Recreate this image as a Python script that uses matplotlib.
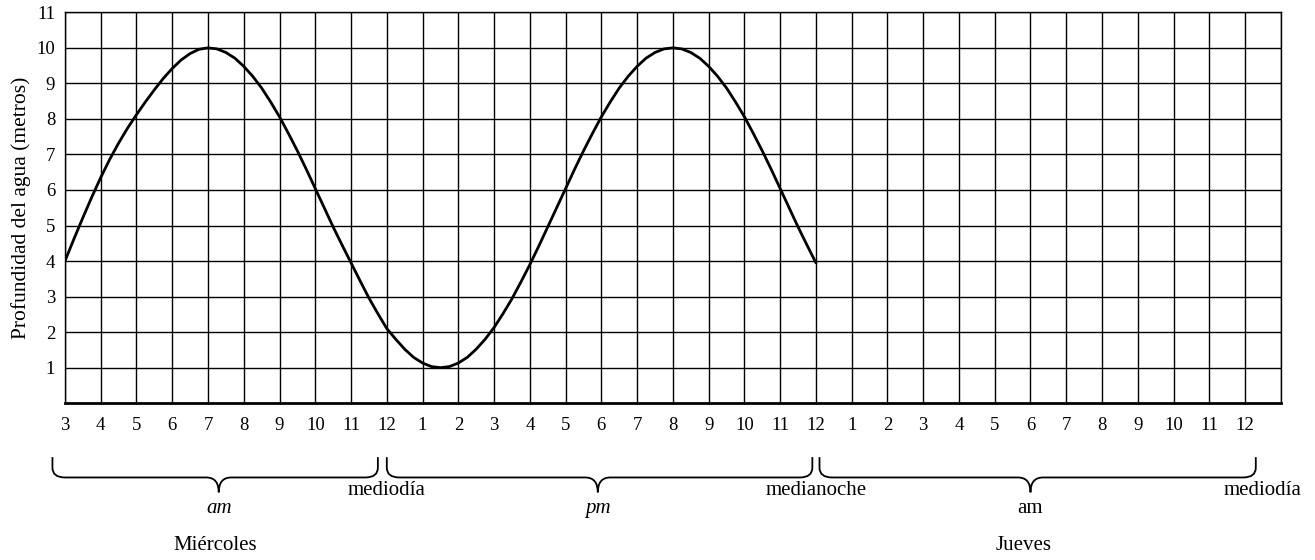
import numpy as np
import matplotlib
matplotlib.use("Agg")
import matplotlib.pyplot as plt
from matplotlib.path import Path
from matplotlib.patches import PathPatch
from matplotlib.transforms import blended_transform_factory

plt.rcParams['font.family'] = ['Liberation Serif', 'DejaVu Serif']

# hours counted from Wednesday midnight (3 = 3 am Wed, 36 = noon Thu),
# depth read off every quarter hour
hours = [3.0, 3.25, 3.5, 3.75, 4.0, 4.25, 4.5, 4.75, 5.0, 5.25, 5.5, 5.75,
         6.0, 6.25, 6.5, 6.75, 7.0, 7.25, 7.5, 7.75, 8.0, 8.25, 8.5, 8.75,
         9.0, 9.25, 9.5, 9.75, 10.0, 10.25, 10.5, 10.75, 11.0, 11.25, 11.5,
         11.75, 12.0, 12.25, 12.5, 12.75, 13.0, 13.25, 13.5, 13.75, 14.0,
         14.25, 14.5, 14.75, 15.0, 15.25, 15.5, 15.75, 16.0, 16.25, 16.5,
         16.75, 17.0, 17.25, 17.5, 17.75, 18.0, 18.25, 18.5, 18.75, 19.0,
         19.25, 19.5, 19.75, 20.0, 20.25, 20.5, 20.75, 21.0, 21.25, 21.5,
         21.75, 22.0, 22.25, 22.5, 22.75, 23.0, 23.25, 23.5, 23.75, 24.0]
depth = [4.00, 4.62, 5.22, 5.80, 6.35, 6.86, 7.32, 7.74, 8.12, 8.48, 8.82,
         9.14, 9.42, 9.66, 9.84, 9.96, 10.00, 9.97, 9.87, 9.71, 9.48, 9.20,
         8.87, 8.48, 8.06, 7.59, 7.10, 6.58, 6.04, 5.50, 4.96, 4.45, 3.95,
         3.45, 2.96, 2.52, 2.10, 1.80, 1.52, 1.29, 1.13, 1.03, 1.00, 1.03,
         1.13, 1.29, 1.52, 1.80, 2.13, 2.52, 2.94, 3.41, 3.90, 4.42, 4.96,
         5.50, 6.04, 6.58, 7.10, 7.59, 8.06, 8.48, 8.87, 9.20, 9.48, 9.71,
         9.87, 9.97, 10.00, 9.97, 9.87, 9.71, 9.48, 9.20, 8.87, 8.48, 8.06,
         7.59, 7.10, 6.58, 6.04, 5.50, 4.96, 4.45, 3.95]

tick_hours = list(range(3, 37))
tick_labels = [str((h - 1) % 12 + 1) for h in tick_hours]
depth_ticks = list(range(1, 12))

# braces: (start, end, tip)
braces = [(2.65, 11.75, 7.3), (12.0, 23.9, 17.9), (24.1, 36.3, 30.0)]
period_labels = [(7.3, 'am', 'italic'), (17.9, 'pm', 'italic'), (30.0, 'am', 'normal')]
edge_labels = [(12.0, 'mediodía'), (24.0, 'medianoche'), (36.5, 'mediodía')]
day_labels = [(7.2, 'Miércoles'), (29.8, 'Jueves')]

fig = plt.figure(figsize=(13.15, 5.6), dpi=100)
ax = fig.add_axes([0.0494, 0.280, 0.9246, 0.698])

ax.plot(hours, depth, color='black', lw=2.0, solid_joinstyle='round',
        solid_capstyle='round', zorder=3)

ax.set_xlim(3, 37)
ax.set_ylim(0, 11)
ax.set_xticks(range(3, 38))
ax.set_xticklabels(tick_labels + [''])
ax.set_yticks(depth_ticks)
ax.set_yticklabels([str(v) for v in depth_ticks])
ax.tick_params(axis='x', length=0, pad=10, labelsize=13.5)
ax.tick_params(axis='y', length=0, pad=7, labelsize=13.5)
ax.grid(True, color='black', lw=1.0)
for s in ['left', 'top', 'right']:
    ax.spines[s].set_linewidth(1.0)
ax.spines['bottom'].set_linewidth(2.0)
ax.set_ylabel('Profundidad del agua (metros)', fontsize=15.5, labelpad=4)

trans = blended_transform_factory(ax.transData, ax.transAxes)
yt, yh, yp = -0.138, -0.19, -0.228
rx, dy = 0.35, 0.025


def brace(x0, x1, xm):
    verts = [(x0, yt), (x0, yh + dy), (x0, yh), (x0 + rx, yh),
             (xm - rx, yh), (xm, yh), (xm, yp), (xm, yh), (xm + rx, yh),
             (x1 - rx, yh), (x1, yh), (x1, yh + dy), (x1, yt)]
    codes = [Path.MOVETO, Path.LINETO, Path.CURVE3, Path.CURVE3,
             Path.LINETO, Path.CURVE3, Path.CURVE3, Path.CURVE3, Path.CURVE3,
             Path.LINETO, Path.CURVE3, Path.CURVE3, Path.LINETO]
    ax.add_patch(PathPatch(Path(verts, codes), fill=False, lw=1.3,
                           edgecolor='black', transform=trans, clip_on=False))


for b in braces:
    brace(*b)

for x, txt, st in period_labels:
    ax.text(x, -0.269, txt, style=st, fontsize=15, ha='center', va='center',
            transform=trans)
for x, txt in edge_labels:
    ax.text(x, -0.223, txt, fontsize=15, ha='center', va='center',
            transform=trans, clip_on=False)
for x, txt in day_labels:
    ax.text(x, -0.364, txt, fontsize=15, ha='center', va='center',
            transform=trans)

fig.savefig('out.png', dpi=100)
